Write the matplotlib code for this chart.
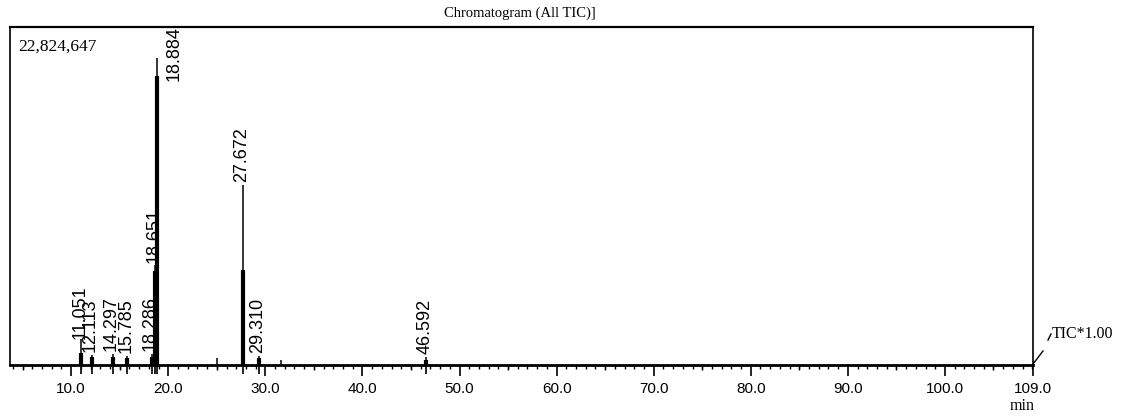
import matplotlib.pyplot as plt
from matplotlib.lines import Line2D
import numpy as np

# peak table (retention time, apex intensity, intensity of the dense lower part)
peak_rt = [11.051, 12.113, 14.297, 15.785, 18.286, 18.651, 18.884, 27.672, 29.310, 46.592]
peak_apex = [1.9e6, 0.75e6, 0.8e6, 0.7e6, 0.8e6, 7.4e6, 22824647, 13.4e6, 0.7e6, 0.6e6]
peak_body = [0.9e6, 0.6e6, 0.6e6, 0.5e6, 0.6e6, 7.0e6, 21.5e6, 7.1e6, 0.5e6, 0.4e6]
peak_labels = ["11.051", "12.113", "14.297", "15.785", "18.286", "18.651", "18.884", "27.672", "29.310", "46.592"]

# small unlabelled bumps
bump_rt = [25.0, 31.6]
bump_h = [0.55e6, 0.35e6]

max_label = "22,824,647"
major_ticks = [10, 20, 30, 40, 50, 60, 70, 80, 90, 100, 109.07]
major_labels = ["10.0", "20.0", "30.0", "40.0", "50.0", "60.0", "70.0", "80.0", "90.0", "100.0", "109.0"]

W, H = 1132, 416
fig = plt.figure(figsize=(W / 100, H / 100), dpi=100)
ax = fig.add_axes([10 / W, 1 - 365 / H, 1023 / W, 338 / H])

ymax = 25.13e6
px = ymax / 338  # data units per pixel
ax.set_xlim(3.7, 109.07)
ax.set_ylim(0, ymax)

ax.vlines(peak_rt, 0, peak_apex, color='black', lw=1.1)
ax.vlines(peak_rt, 0, peak_body, color='black', lw=3)
ax.vlines(bump_rt, 0, bump_h, color='black', lw=1.1)

# integration markers crossing the baseline
ax.vlines(peak_rt, -9 * px, 5 * px, color='black', lw=1.2, clip_on=False)

# label offsets in points (dx, dy)
offs = {"18.884": (12, -16.5), "11.051": (-1, 0)}
for rt, h, lab in zip(peak_rt, peak_apex, peak_labels):
    dx, dy = offs.get(lab, (-1, 2))
    ax.annotate(lab, (rt, h), xytext=(dx, dy), textcoords='offset points',
                rotation=90, ha='center', va='bottom', fontsize=13,
                family='Liberation Sans', annotation_clip=False)

ax.set_yticks([])
ax.set_xticks(major_ticks)
ax.set_xticklabels(major_labels, family='Liberation Sans', fontsize=11)
ax.set_xticks(np.arange(4, 110, 1), minor=True)
ax.tick_params(axis='x', which='major', direction='out', length=8, width=1.2, pad=4)
ax.tick_params(axis='x', which='minor', direction='out', length=3, width=1)
fives = np.arange(5, 106, 10)
ax.vlines(fives, -5 * px, 0, color='black', lw=1, clip_on=False)

for s in ax.spines.values():
    s.set_linewidth(1.2)
ax.spines['bottom'].set_linewidth(2)
ax.spines['top'].set_linewidth(1.6)

ax.text(0.008, 0.965, max_label, transform=ax.transAxes, ha='left', va='top',
        family='Liberation Serif', fontsize=12.5)
fig.text(520 / W, 1 - 13 / H, "Chromatogram (All TIC)]", ha='center', va='center',
         family='Liberation Serif', fontsize=10.5)
fig.text(1022 / W, 1 - 406 / H, "min", ha='center', va='center',
         family='Liberation Serif', fontsize=11.5)
fig.text(1052 / W, 1 - 334 / H, "TIC*1.00", ha='left', va='center',
         family='Liberation Serif', fontsize=11.5)
fig.add_artist(Line2D([1033 / W, 1043 / W], [1 - 364 / H, 1 - 351 / H], color='black', lw=1))
fig.add_artist(Line2D([1048 / W, 1051 / W], [1 - 340 / H, 1 - 334 / H], color='black', lw=1))

fig.savefig('out.png', dpi=100)
